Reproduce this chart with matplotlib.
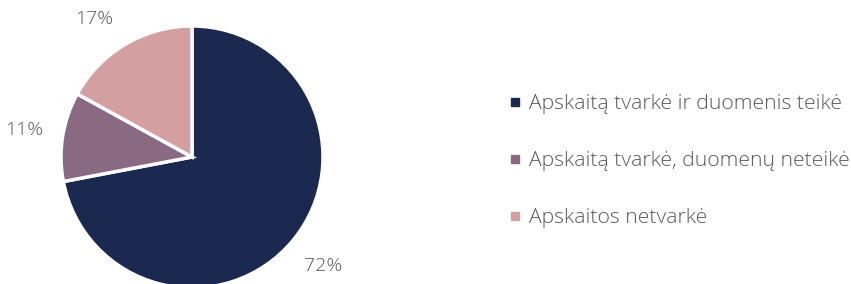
import matplotlib
matplotlib.use('Agg')
import matplotlib.pyplot as plt
from matplotlib.lines import Line2D

# data
labels = ['Apskaitą tvarkė ir duomenis teikė',
          'Apskaitą tvarkė, duomenų neteikė',
          'Apskaitos netvarkė']
shares = [72, 11, 17]
colors = ['#1b2850', '#8a6a82', '#d39fa0']

plt.rcParams['font.family'] = ['Open Sans', 'DejaVu Sans']
plt.rcParams['font.weight'] = 'light'

W, H = 851, 284
fig = plt.figure(figsize=(W / 100, H / 100), dpi=100)

# pie axes: centre (192, 157) px, radius 131 px
cx, cy, r = 192, 157, 131
ax = fig.add_axes([(cx - r) / W, (H - cy - r) / H, 2 * r / W, 2 * r / H])
wedges, texts, autotexts = ax.pie(
    shares, colors=colors, startangle=90, counterclock=False,
    autopct='%d%%', pctdistance=1.3, radius=1,
    wedgeprops={'edgecolor': 'white', 'linewidth': 2.5},
    textprops={'color': '#595959', 'fontsize': 14})
ax.set_xlim(-1, 1)
ax.set_ylim(-1, 1)
ax.set_aspect('auto')
ax.axis('off')
for w in wedges:
    w.set_clip_on(False)
# the small top label sits a bit further left in the original
autotexts[2].set_position((-0.75, 1.05))

handles = [Line2D([], [], marker='s', linestyle='none', markersize=6,
                  markerfacecolor=c, markeredgecolor=c) for c in colors]
leg = fig.legend(handles, labels, loc='center left',
                 bbox_to_anchor=(498 / W, 1 - 161 / H), frameon=False,
                 fontsize=15.2, labelspacing=1.75, handlelength=0.6,
                 handletextpad=0.35, borderpad=0)
for t in leg.get_texts():
    t.set_color('#595959')

fig.savefig('out.png', dpi=100)
